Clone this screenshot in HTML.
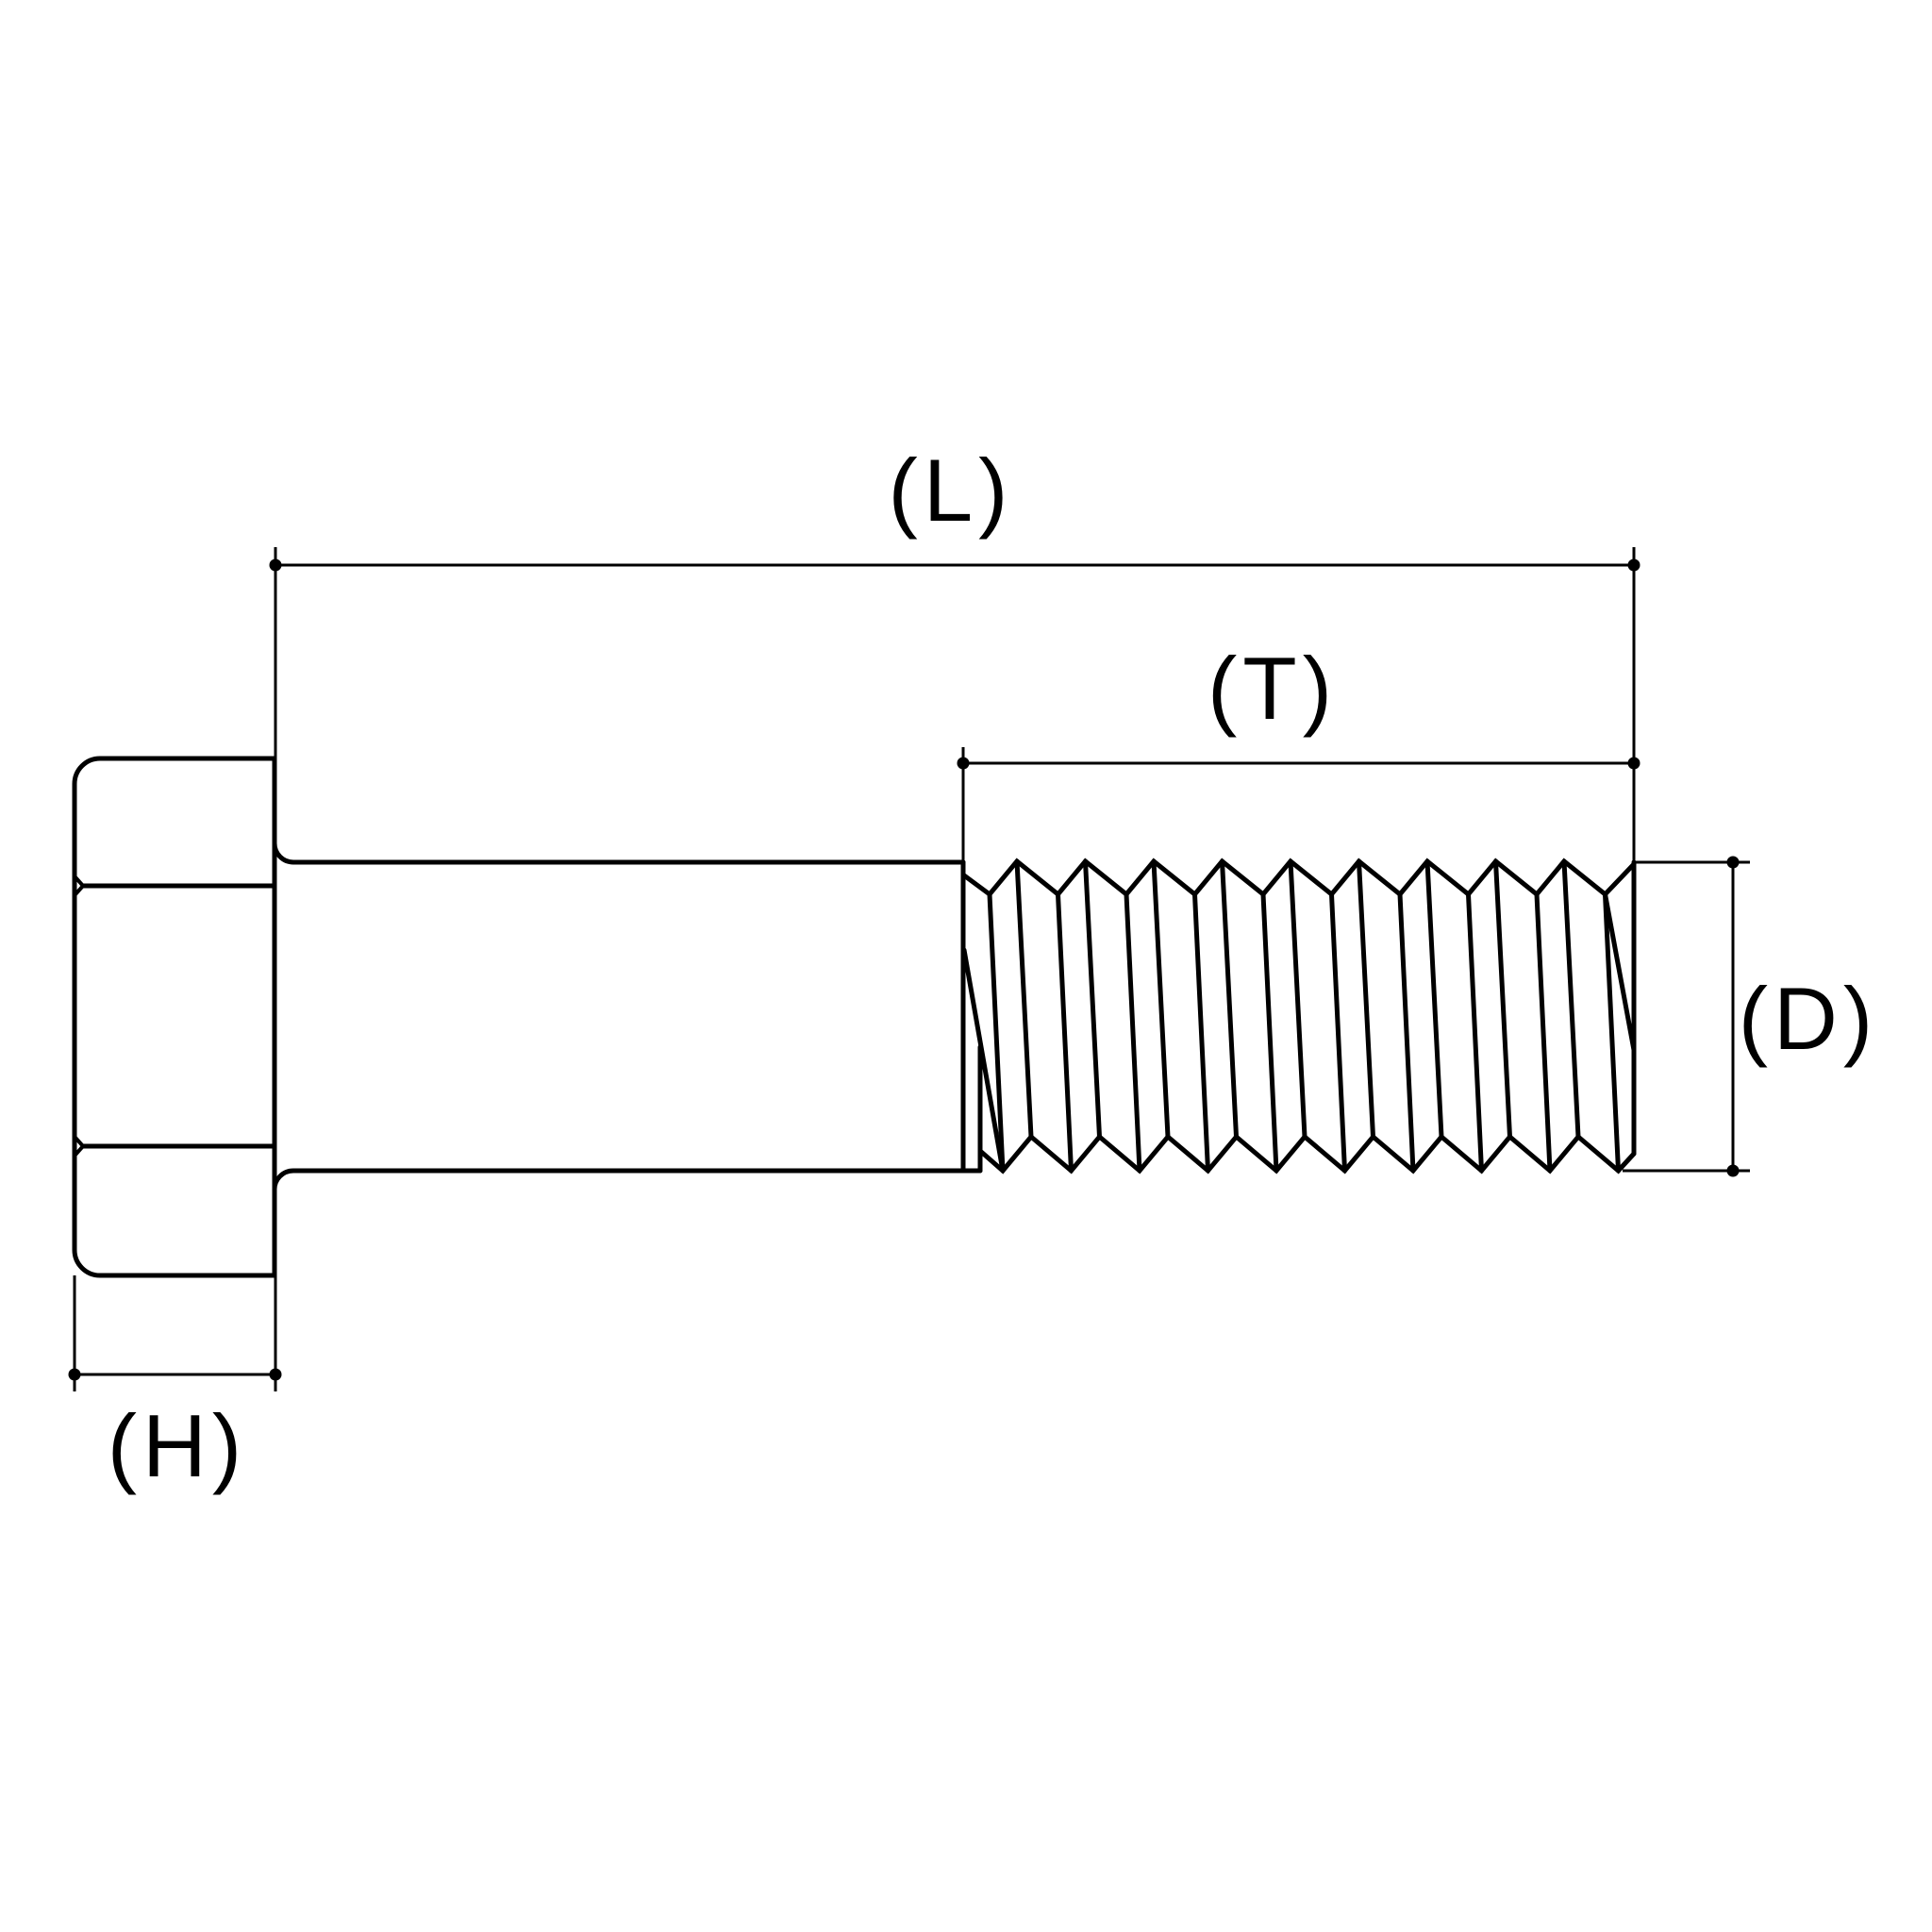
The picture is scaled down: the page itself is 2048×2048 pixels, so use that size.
<!DOCTYPE html>
<html><head><meta charset="utf-8"><style>
html,body{margin:0;padding:0;background:#fff;}
svg{display:block;}
text{font-family:"Liberation Sans",sans-serif;font-size:94px;fill:#000;letter-spacing:6px;}
</style></head><body>
<svg width="2048" height="2048" viewBox="0 0 2048 2048" xmlns="http://www.w3.org/2000/svg">
<rect width="2048" height="2048" fill="#fff"/>
<g fill="none" stroke="#000" stroke-width="5" stroke-linejoin="miter" stroke-linecap="round">
  <path d="M291,804 H106 A27,27 0 0 0 79,831 V1325 A27,27 0 0 0 106,1352 H291 Z"/>
  <line x1="88" y1="939" x2="291" y2="939"/>
  <line x1="88" y1="1215" x2="291" y2="1215"/>
  <path d="M80,930 L88,939 L80,948" stroke-width="4"/>
  <path d="M80,1206 L88,1215 L80,1224" stroke-width="4"/>
  <path d="M291,894 A20,20 0 0 0 311,914 H1021"/>
  <path d="M291,1262 A20,20 0 0 1 311,1241 H1039"/>
  <line x1="1021" y1="914" x2="1021" y2="1241"/>
  <path d="M1039,1110 V1241"/>
  <polyline points="1022,928 1049,948 1078,913 1121.5,948 1150.5,913 1194,948 1223,913 1266.5,948 1295.5,913 1339,948 1368,913 1411.5,948 1440.5,913 1484,948 1513,913 1556.5,948 1585.5,913 1629,948 1658,913 1701.5,948 1732,916"/>
  <polyline points="1039,1220 1063,1241 1093,1205 1135.5,1241 1165.5,1205 1208,1241 1238,1205 1280.5,1241 1310.5,1205 1353,1241 1383,1205 1425.5,1241 1455.5,1205 1498,1241 1528,1205 1570.5,1241 1600.5,1205 1643,1241 1673,1205 1715.5,1241 1732,1223"/>
  <line x1="1732" y1="914" x2="1732" y2="1223"/>
  <line x1="1022" y1="1007" x2="1063" y2="1241"/>
  <line x1="1049" y1="948" x2="1063" y2="1241"/>
  <line x1="1121.5" y1="948" x2="1135.5" y2="1241"/>
  <line x1="1194" y1="948" x2="1208" y2="1241"/>
  <line x1="1266.5" y1="948" x2="1280.5" y2="1241"/>
  <line x1="1339" y1="948" x2="1353" y2="1241"/>
  <line x1="1411.5" y1="948" x2="1425.5" y2="1241"/>
  <line x1="1484" y1="948" x2="1498" y2="1241"/>
  <line x1="1556.5" y1="948" x2="1570.5" y2="1241"/>
  <line x1="1629" y1="948" x2="1643" y2="1241"/>
  <line x1="1701.5" y1="948" x2="1732" y2="1113"/>
  <line x1="1701.5" y1="948" x2="1715.5" y2="1241"/>
  <line x1="1078" y1="913" x2="1093" y2="1205"/>
  <line x1="1150.5" y1="913" x2="1165.5" y2="1205"/>
  <line x1="1223" y1="913" x2="1238" y2="1205"/>
  <line x1="1295.5" y1="913" x2="1310.5" y2="1205"/>
  <line x1="1368" y1="913" x2="1383" y2="1205"/>
  <line x1="1440.5" y1="913" x2="1455.5" y2="1205"/>
  <line x1="1513" y1="913" x2="1528" y2="1205"/>
  <line x1="1585.5" y1="913" x2="1600.5" y2="1205"/>
  <line x1="1658" y1="913" x2="1673" y2="1205"/>
</g>
<g fill="none" stroke="#000" stroke-width="3">
  <line x1="292" y1="580" x2="292" y2="804"/>
  <line x1="1732" y1="580" x2="1732" y2="914"/>
  <line x1="292" y1="599" x2="1732" y2="599"/>
  <line x1="1021" y1="792" x2="1021" y2="914"/>
  <line x1="1021" y1="809" x2="1732" y2="809"/>
  <line x1="1732" y1="914" x2="1855" y2="914"/>
  <line x1="1720" y1="1241" x2="1855" y2="1241"/>
  <line x1="1837" y1="914" x2="1837" y2="1241"/>
  <line x1="79" y1="1352" x2="79" y2="1475"/>
  <line x1="292" y1="1352" x2="292" y2="1475"/>
  <line x1="79" y1="1457" x2="292" y2="1457"/>
</g>
<g fill="#000">
  <circle cx="292" cy="599" r="6.5"/><circle cx="1732" cy="599" r="6.5"/>
  <circle cx="1021" cy="809" r="6.5"/><circle cx="1732" cy="809" r="6.5"/>
  <circle cx="1837" cy="914" r="6.5"/><circle cx="1837" cy="1241" r="6.5"/>
  <circle cx="79" cy="1457" r="6.5"/><circle cx="292" cy="1457" r="6.5"/>
</g>
<text x="1008" y="552" text-anchor="middle">(L)</text>
<text x="1349" y="762" text-anchor="middle">(T)</text>
<text x="1917" y="1112" text-anchor="middle">(D)</text>
<text x="188" y="1565" text-anchor="middle">(H)</text>
</svg>
</body></html>
